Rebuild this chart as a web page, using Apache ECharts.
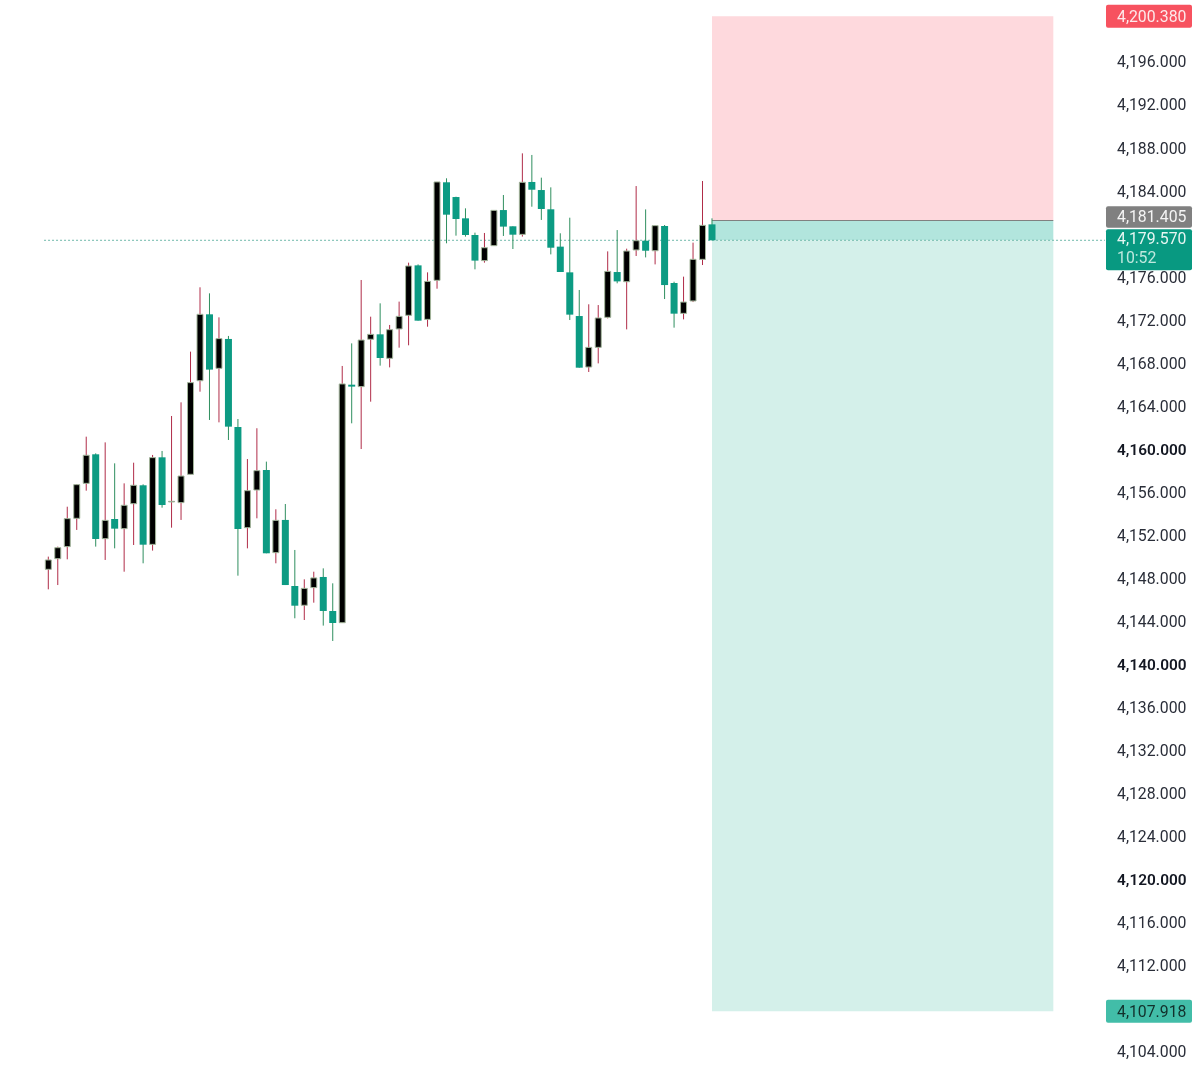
<!DOCTYPE html>
<html>
<head>
<meta charset="utf-8">
<title>chart</title>
<style>
html, body { margin: 0; padding: 0; background: #fff; }
#box { width: 1200px; height: 1074px; }
</style>
<script src="https://cdn.jsdelivr.net/npm/echarts@6/dist/echarts.min.js"></script>
</head>
<body>
<div id="box"></div>
<script>
var opens = [4148.99,4149.98,4151.10,4153.73,4156.98,4159.68,4151.84,4153.67,4152.77,4155.09,4156.80,4151.31,4159.40,4155.25,4155.19,4157.82,4166.52,4172.69,4167.67,4170.40,4162.22,4152.86,4156.36,4158.22,4150.54,4153.58,4147.44,4145.65,4147.29,4148.28,4145.12,4144.03,4166.15,4165.97,4170.37,4170.83,4168.60,4171.33,4172.60,4177.24,4172.22,4175.85,4184.96,4183.59,4181.61,4180.06,4177.68,4179.07,4182.38,4180.87,4180.12,4184.99,4184.24,4182.45,4178.98,4176.59,4172.53,4167.79,4169.62,4172.41,4176.62,4175.72,4178.67,4179.53,4178.60,4180.90,4175.60,4172.78,4173.93,4177.80,4181.05];
var closes = [4149.86,4151.00,4153.70,4156.86,4159.59,4151.81,4153.54,4152.77,4154.94,4156.80,4151.28,4159.37,4154.97,4155.31,4157.66,4166.34,4172.69,4167.55,4170.43,4162.25,4152.74,4156.30,4158.16,4150.48,4153.54,4147.53,4145.61,4147.22,4148.19,4145.12,4144.00,4166.22,4165.97,4170.30,4170.83,4168.63,4171.26,4172.50,4177.18,4172.10,4175.75,4184.99,4181.95,4181.55,4180.06,4177.68,4178.88,4182.35,4180.84,4180.09,4184.96,4184.27,4182.48,4178.88,4176.62,4172.66,4167.73,4169.62,4172.35,4176.68,4175.75,4178.57,4179.53,4178.60,4180.93,4175.41,4172.75,4173.83,4177.80,4180.96,4179.57];
var highs = [4150.17,4151.10,4154.81,4156.92,4161.32,4159.77,4160.79,4158.84,4156.98,4158.90,4156.89,4159.62,4159.99,4163.24,4164.51,4169.22,4175.20,4174.64,4172.41,4170.68,4162.96,4159.24,4162.10,4159.00,4154.57,4155.06,4150.79,4148.06,4148.77,4149.08,4147.69,4167.89,4169.99,4175.88,4172.47,4173.71,4171.70,4173.87,4177.49,4177.33,4176.59,4184.99,4185.33,4183.62,4182.54,4180.28,4180.25,4182.35,4183.78,4180.87,4187.65,4187.50,4185.39,4184.49,4180.22,4181.67,4174.95,4173.62,4173.55,4178.54,4180.52,4178.79,4184.61,4182.44,4180.93,4180.99,4175.72,4176.19,4179.35,4185.08,4181.61];
var lows = [4147.13,4147.53,4149.92,4152.65,4156.30,4151.10,4149.86,4150.94,4148.77,4151.25,4149.55,4150.73,4154.72,4152.86,4153.58,4157.82,4165.50,4162.87,4162.65,4161.01,4148.40,4150.94,4153.73,4150.48,4149.55,4147.53,4144.44,4144.28,4145.89,4143.76,4142.33,4144.03,4162.56,4160.17,4164.57,4167.92,4167.76,4169.59,4169.81,4172.10,4171.54,4175.07,4179.29,4180.00,4179.91,4176.87,4177.49,4179.07,4179.97,4178.76,4179.91,4182.69,4181.46,4178.26,4176.62,4172.16,4167.73,4167.33,4168.13,4172.31,4175.57,4171.29,4178.11,4177.98,4177.33,4174.11,4171.45,4172.22,4173.83,4177.27,4179.57];

// position box
var boxStart = 70, boxEnd = 106;
var targetPrice = 4200.38, entryPrice = 4181.405, stopPrice = 4107.918, lastPrice = 4179.57;
var countdown = '10:52';

var hiddenTicks = [4100, 4180, 4200, 4204];
var boldTicks = [4120, 4140, 4160];
var tagPrices = [targetPrice, entryPrice, lastPrice, stopPrice];

function fmt(v) {
    return v.toLocaleString('en-US', {minimumFractionDigits: 3, maximumFractionDigits: 3});
}

var candleData = [];
for (var i = 0; i < opens.length; i++) {
    candleData.push([i, opens[i], closes[i], lows[i], highs[i]]);
}

function renderCandle(params, api) {
    var x = api.coord([api.value(0), 0])[0];
    var o = api.coord([0, api.value(1)])[1];
    var c = api.coord([0, api.value(2)])[1];
    var l = api.coord([0, api.value(3)])[1];
    var h = api.coord([0, api.value(4)])[1];
    var up = api.value(2) >= api.value(1);
    var top = Math.min(o, c), bot = Math.max(o, c);
    var body;
    if (up) {
        body = {type: 'rect', shape: {x: x - 3, y: top, width: 6, height: bot - top},
            style: {fill: '#000', stroke: '#a3b59b', lineWidth: 1}};
    } else {
        body = {type: 'rect', shape: {x: x - 3.5, y: top, width: 7, height: Math.max(bot - top, 1.5)},
            style: {fill: '#0c9b83'}};
    }
    return {
        type: 'group',
        children: [
            {type: 'line', shape: {x1: x, y1: h, x2: x, y2: l},
                style: {stroke: up ? '#b02c48' : '#2f8f5f', lineWidth: 1}},
            body
        ]
    };
}

// tag look per price: fill, text colour, shift from the price, box height
var tagLook = [
    {fill: '#f7525f', color: '#fde9ea', dy: 0, h: 23},
    {fill: '#808080', color: '#f4f4f4', dy: -3.5, h: 21.5},
    {fill: '#089981', color: '#e6f6f2', dy: 9.5, h: 41},
    {fill: '#42bda8', color: '#12302b', dy: 0, h: 23}
];

function renderTag(params, api) {
    var y = api.coord([0, api.value(0)])[1];
    var look = tagLook[params.dataIndex];
    var cy = y + look.dy;
    var kids = [{
        type: 'rect',
        shape: {x: 1106, y: cy - look.h / 2, width: 86, height: look.h, r: 2},
        style: {fill: look.fill}
    }];
    var textY = look.h > 30 ? cy - 9.5 : cy + 1.5;
    kids.push({
        type: 'text',
        style: {x: 1117, y: textY, text: fmt(api.value(0)), fill: look.color,
            font: '15.8px Roboto', textAlign: 'left', textVerticalAlign: 'middle'}
    });
    if (look.h > 30) {
        kids.push({
            type: 'text',
            style: {x: 1117, y: cy + 9, text: countdown, fill: '#bfe8de',
                font: '15.8px Roboto', textAlign: 'left', textVerticalAlign: 'middle'}
        });
    }
    return {type: 'group', children: kids};
}

var myChart = echarts.init(document.getElementById('box'));
var option = {
    animation: false,
    backgroundColor: '#fff',
    grid: {left: 0, right: 95, top: -22.58, bottom: -22.46, outerBoundsMode: 'none', containLabel: false},
    xAxis: {
        type: 'value',
        min: -5.094,
        max: 111.45,
        show: false
    },
    yAxis: {
        type: 'value',
        position: 'right',
        min: 4100,
        max: 4204,
        interval: 4,
        scale: true,
        axisLine: {show: false},
        axisTick: {show: false},
        splitLine: {show: false},
        axisLabel: {
            margin: 12,
            fontFamily: 'Roboto',
            fontSize: 15.8,
            color: '#2a2e39',
            rich: {
                b: {fontFamily: 'Roboto', fontSize: 15.4, fontWeight: 600, color: '#131722'}
            },
            formatter: function (v) {
                if (hiddenTicks.indexOf(v) >= 0) return '';
                if (boldTicks.indexOf(v) >= 0) return '{b|' + fmt(v) + '}';
                return fmt(v);
            }
        }
    },
    series: [
        {
            type: 'line',
            name: 'last',
            z: 3,
            symbol: 'none',
            silent: true,
            lineStyle: {color: '#6fb8aa', width: 1, type: [2, 2]},
            data: [[-0.45, lastPrice], [111.45, lastPrice]],
            markArea: {
                silent: true,
                data: [
                    [{coord: [boxStart, targetPrice], itemStyle: {color: '#fed9dd'}}, {coord: [boxEnd, entryPrice]}],
                    [{coord: [boxStart, entryPrice], itemStyle: {color: '#b2e5dd'}}, {coord: [boxEnd, lastPrice]}],
                    [{coord: [boxStart, lastPrice], itemStyle: {color: '#d4f0ea'}}, {coord: [boxEnd, stopPrice]}]
                ]
            },
            markLine: {
                silent: true,
                symbol: 'none',
                label: {show: false},
                lineStyle: {color: '#808080', width: 1, type: 'solid'},
                data: [[{coord: [boxStart, entryPrice]}, {coord: [boxEnd, entryPrice]}]]
            }
        },
        {
            type: 'custom',
            name: 'candles',
            z: 5,
            clip: false,
            silent: true,
            renderItem: renderCandle,
            encode: {x: 0, y: [1, 2, 3, 4]},
            data: candleData
        },
        {
            type: 'custom',
            name: 'tags',
            z: 6,
            clip: false,
            silent: true,
            renderItem: renderTag,
            encode: {y: 0},
            data: tagPrices.map(function (p) { return [p]; })
        }
    ]
};
myChart.setOption(option);
</script>
</body>
</html>
